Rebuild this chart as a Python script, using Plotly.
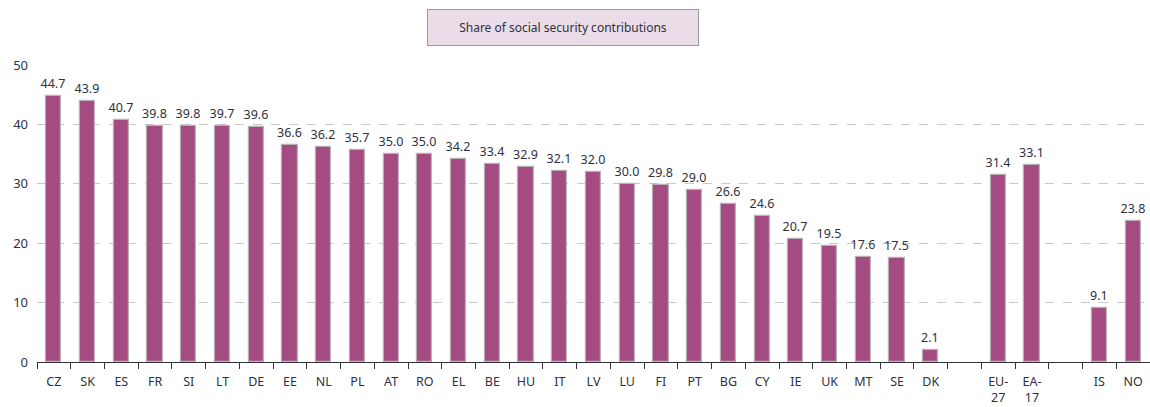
import plotly.graph_objects as go

countries = ["CZ", "SK", "ES", "FR", "SI", "LT", "DE", "EE", "NL", "PL", "AT", "RO", "EL", "BE",
             "HU", "IT", "LV", "LU", "FI", "PT", "BG", "CY", "IE", "UK", "MT", "SE", "DK"]
country_vals = [44.7, 43.9, 40.7, 39.8, 39.8, 39.7, 39.6, 36.6, 36.2, 35.7, 35.0, 35.0, 34.2, 33.4,
                32.9, 32.1, 32.0, 30.0, 29.8, 29.0, 26.6, 24.6, 20.7, 19.5, 17.6, 17.5, 2.1]
agg_labels = ["EU-<br>27", "EA-<br>17"]
agg_vals = [31.4, 33.1]
other_labels = ["IS", "NO"]
other_vals = [9.1, 23.8]
title_text = "Share of social security contributions"

# build slot positions with gaps between groups
labels, vals, xs = [], [], []
pos = 0
for group_l, group_v in [(countries, country_vals), (agg_labels, agg_vals), (other_labels, other_vals)]:
    for l, v in zip(group_l, group_v):
        labels.append(l); vals.append(v); xs.append(pos); pos += 1
    pos += 1
n_slots = pos - 1

bar_color = "#A44C82"
text_color = "#2E3142"
font_family = "Noto Sans, Open Sans, sans-serif"

fig = go.Figure(go.Bar(
    x=xs, y=vals, width=0.45,
    marker=dict(color=bar_color, line=dict(color="#B8B0B5", width=1.2)),
    text=[f"{v:.1f}" for v in vals], textposition="outside", constraintext="none",
    textfont=dict(size=12.5, color=text_color, family=font_family),
    cliponaxis=False,
))

fig.update_layout(
    width=1150, height=407,
    margin=dict(l=37, r=0, t=65, b=45),
    plot_bgcolor="white", paper_bgcolor="white",
    showlegend=False, bargap=0,
    font=dict(family=font_family, color=text_color, size=12),
    xaxis=dict(
        range=[-0.5, n_slots - 0.5], tickvals=xs, ticktext=labels, ticks="",
        showgrid=False, zeroline=False, showline=True, linecolor="#333", linewidth=1.2,
        tickfont=dict(size=12.5, color=text_color), ticklabelstandoff=8, automargin=False,
        minor=dict(tickvals=[i - 0.5 for i in range(n_slots + 1)], ticks="outside",
                   ticklen=6, tickcolor="#333", tickwidth=1.2, showgrid=False),
    ),
    yaxis=dict(
        range=[0, 50], tickvals=[0, 10, 20, 30, 40, 50], showgrid=True, automargin=False,
        gridcolor="#C8C8C8", griddash="dash", gridwidth=1, zeroline=False,
        tickfont=dict(size=13, color=text_color), ticks="", ticklabelstandoff=8,
    ),
    annotations=[dict(
        text=title_text, xref="paper", yref="paper", x=0.473, y=1.125, showarrow=False,
        xanchor="center", yanchor="middle", font=dict(size=12, color=text_color),
        bgcolor="#EADDE7", bordercolor="#9A9A9A", borderwidth=1, borderpad=9,
        width=252,
    )],
)

fig.write_html("out.html", post_script="document.body.style.margin='0';",
               config={"displayModeBar": False})
